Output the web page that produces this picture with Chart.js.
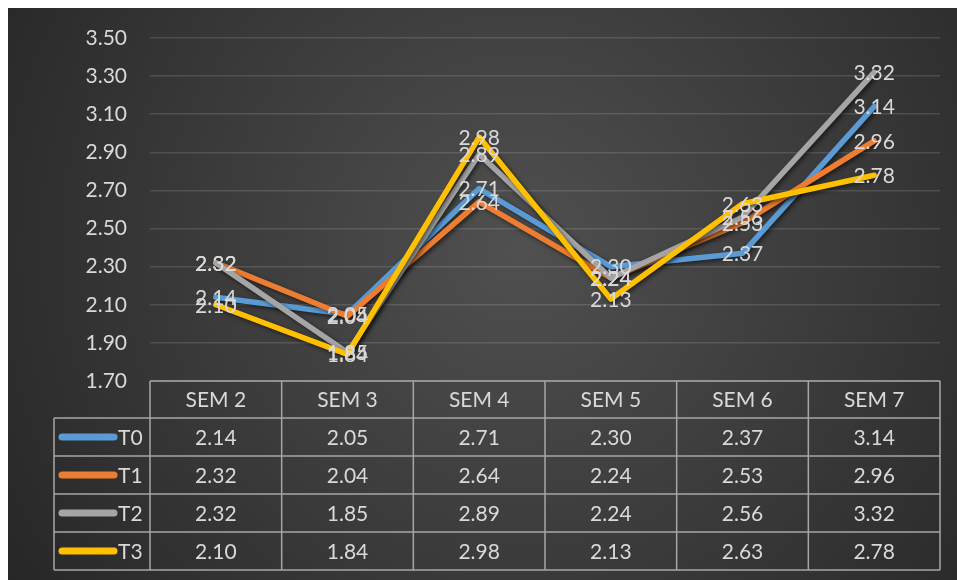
<!DOCTYPE html>
<html>
<head>
<meta charset="utf-8">
<script src="https://cdn.jsdelivr.net/npm/chart.js@4/dist/chart.umd.min.js"></script>
<style>
html,body{margin:0;padding:0;background:#fff;}
#wrap{width:957px;height:580px;position:relative;}
</style>
</head>
<body>
<div id="wrap"><canvas id="c" width="957" height="580"></canvas></div>
<script>
const categories = ["SEM 2", "SEM 3", "SEM 4", "SEM 5", "SEM 6", "SEM 7"];
const seriesNames = ["T0", "T1", "T2", "T3"];
const T0 = [2.14, 2.05, 2.71, 2.30, 2.37, 3.14];
const T1 = [2.32, 2.04, 2.64, 2.24, 2.53, 2.96];
const T2 = [2.32, 1.85, 2.89, 2.24, 2.56, 3.32];
const T3 = [2.10, 1.84, 2.98, 2.13, 2.63, 2.78];
const seriesColors = ["#5B9BD5", "#ED7D31", "#A5A5A5", "#FFC000"];
const yMin = 1.7, yMax = 3.5, yStep = 0.2;

const allSeries = [T0, T1, T2, T3];
const FONT = "Lato, 'Open Sans', sans-serif";
const TEXT = "#d9d9d9";
const FS = 21;

const bgPlugin = {
  id: 'bg',
  beforeDraw(chart) {
    const ctx = chart.ctx;
    ctx.save();
    const g = ctx.createRadialGradient(520, 250, 0, 520, 250, 620);
    g.addColorStop(0, '#505050');
    g.addColorStop(1, '#262626');
    ctx.fillStyle = g;
    ctx.fillRect(8, 8, chart.width - 8, chart.height - 8);
    ctx.restore();
  }
};

const shadowPlugin = {
  id: 'shadow',
  beforeDatasetDraw(chart) {
    const ctx = chart.ctx;
    ctx.save();
    ctx.shadowColor = 'rgba(0,0,0,0.55)';
    ctx.shadowBlur = 4;
    ctx.shadowOffsetX = 2;
    ctx.shadowOffsetY = 2;
  },
  afterDatasetDraw(chart) {
    chart.ctx.restore();
  }
};

const labelPlugin = {
  id: 'labels',
  afterDatasetsDraw(chart) {
    const ctx = chart.ctx;
    ctx.save();
    ctx.font = FS + 'px ' + FONT;
    ctx.fillStyle = TEXT;
    ctx.textAlign = 'center';
    ctx.textBaseline = 'middle';
    chart.data.datasets.forEach((ds, i) => {
      const meta = chart.getDatasetMeta(i);
      meta.data.forEach((pt, j) => {
        ctx.fillText(ds.data[j].toFixed(2), pt.x, pt.y + 1);
      });
    });
    ctx.restore();
  }
};

const tablePlugin = {
  id: 'table',
  afterDraw(chart) {
    const ctx = chart.ctx;
    const xs = chart.scales.x;
    const area = chart.chartArea;
    const colW = (area.right - area.left) / categories.length;
    const top = area.bottom;
    const headH = 37, rowH = 38;
    const legL = 54;
    const bottom = top + headH + rowH * seriesNames.length;
    ctx.save();
    ctx.strokeStyle = '#a6a6a6';
    ctx.lineWidth = 1.5;
    // header horizontal top
    ctx.beginPath();
    ctx.moveTo(area.left, top); ctx.lineTo(area.right, top);
    // row lines
    for (let r = 0; r <= seriesNames.length; r++) {
      const y = top + headH + r * rowH;
      ctx.moveTo(legL, y); ctx.lineTo(area.right, y);
    }
    // vertical lines
    ctx.moveTo(legL, top + headH); ctx.lineTo(legL, bottom);
    for (let i = 0; i <= categories.length; i++) {
      const x = (i < categories.length) ? xs.getPixelForValue(i) - colW / 2 : xs.getPixelForValue(i - 1) + colW / 2;
      ctx.moveTo(x, top); ctx.lineTo(x, bottom);
    }
    ctx.stroke();

    ctx.font = FS + 'px ' + FONT;
    ctx.fillStyle = TEXT;
    ctx.textAlign = 'center';
    ctx.textBaseline = 'middle';
    categories.forEach((c, i) => {
      ctx.fillText(c, xs.getPixelForValue(i), top + headH / 2 + 1);
    });
    seriesNames.forEach((n, r) => {
      const yc = top + headH + r * rowH + rowH / 2 + 1;
      allSeries[r].forEach((v, i) => {
        ctx.fillText(v.toFixed(2), xs.getPixelForValue(i), yc);
      });
      ctx.save();
      ctx.strokeStyle = seriesColors[r];
      ctx.lineWidth = 7;
      ctx.lineCap = 'round';
      ctx.beginPath();
      ctx.moveTo(62, yc - 1); ctx.lineTo(114, yc - 1);
      ctx.stroke();
      ctx.restore();
      ctx.textAlign = 'left';
      ctx.fillText(n, 118, yc);
      ctx.textAlign = 'center';
    });
    ctx.restore();
  }
};

new Chart(document.getElementById('c'), {
  type: 'line',
  data: {
    labels: categories,
    datasets: seriesNames.map((n, i) => ({
      label: n,
      data: allSeries[i],
      borderColor: seriesColors[i],
      backgroundColor: seriesColors[i],
      borderWidth: 5.5,
      borderCapStyle: 'round',
      borderJoinStyle: 'round',
      pointRadius: 0,
      tension: 0,
      order: seriesNames.length - i
    }))
  },
  options: {
    responsive: false,
    animation: false,
    devicePixelRatio: 1,
    layout: { padding: { left: 0, right: 17, top: 38, bottom: 199 } },
    plugins: { legend: { display: false }, tooltip: { enabled: false } },
    scales: {
      x: { display: false, offset: true },
      y: {
        min: yMin, max: yMax,
        afterFit(scale) { scale.width = 150; },
        border: { display: false },
        grid: { color: 'rgba(255,255,255,0.13)', lineWidth: 1.5, drawTicks: false },
        ticks: {
          stepSize: yStep,
          padding: 23,
          color: TEXT,
          font: { family: FONT, size: FS },
          callback: v => Number(v).toFixed(2)
        }
      }
    }
  },
  plugins: [bgPlugin, shadowPlugin, labelPlugin, tablePlugin]
});
</script>
</body>
</html>
